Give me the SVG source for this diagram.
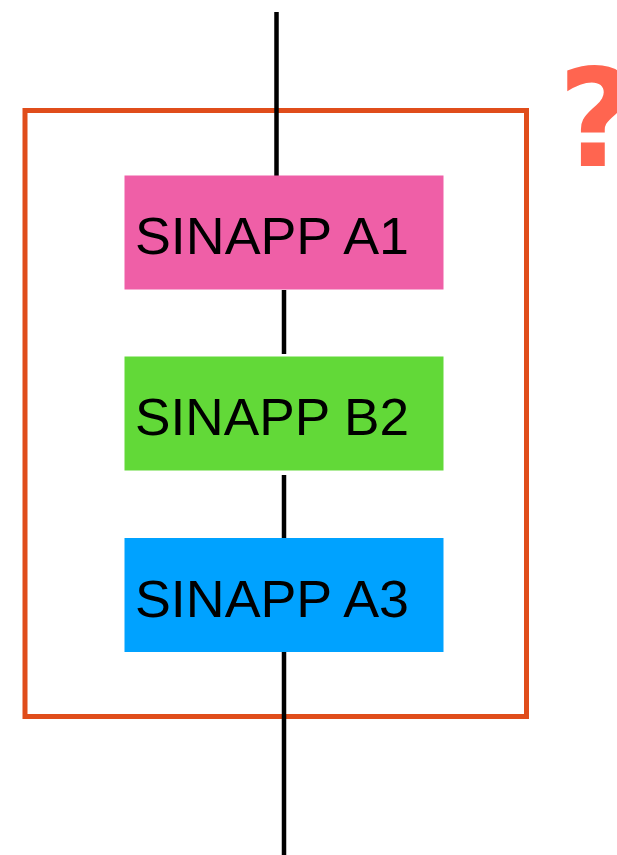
<svg xmlns="http://www.w3.org/2000/svg" width="617" height="855" viewBox="0 0 617 855">
<style>
.node text{font-family:"Liberation Sans",Arial,sans-serif;font-size:51px;fill:#000}
.conn line{stroke:#000;stroke-width:4.5}
</style>
<rect width="617" height="855" fill="#fff"/>
<g id="frame"><rect x="25" y="110.5" width="501.5" height="606" fill="none" stroke="#E04D1B" stroke-width="5"/></g>
<g id="connectors" class="conn">
<line x1="276.5" y1="12" x2="276.5" y2="177"/>
<line x1="284" y1="290" x2="284" y2="354"/>
<line x1="284" y1="475" x2="284" y2="538"/>
<line x1="284" y1="650" x2="284" y2="855"/>
</g>
<g id="a1" class="node"><rect x="124.5" y="175.5" width="319" height="114" fill="#EF5FA7"/><text x="135" y="254" textLength="274" lengthAdjust="spacingAndGlyphs">SINAPP A1</text></g>
<g id="b2" class="node"><rect x="124.5" y="356.5" width="319" height="114" fill="#62D938"/><text x="135" y="435" textLength="274" lengthAdjust="spacingAndGlyphs">SINAPP B2</text></g>
<g id="a3" class="node"><rect x="124.5" y="538" width="319" height="114" fill="#00A2FF"/><text x="135" y="617" textLength="274" lengthAdjust="spacingAndGlyphs">SINAPP A3</text></g>
<g id="q"><text x="558" y="166" font-family="DejaVu Sans,sans-serif" font-weight="bold" font-size="135" fill="#FF6550">?</text></g>
</svg>
